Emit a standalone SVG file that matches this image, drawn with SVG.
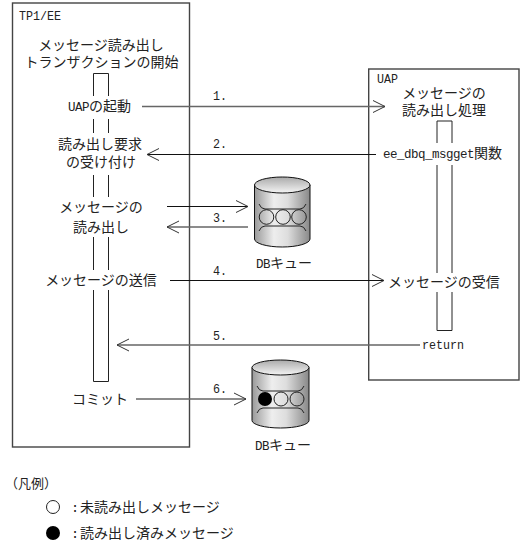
<svg xmlns="http://www.w3.org/2000/svg" width="523" height="544" viewBox="0 0 523 544">
<style>
text{font-family:"Noto Sans CJK JP","Noto Sans CJK SC",sans-serif;font-size:14px;fill:#222}
.l{font-family:"Liberation Mono",monospace;font-size:13.5px}
.t{font-family:"Liberation Mono",monospace;font-size:12.5px;letter-spacing:-.5px}
.m{text-anchor:middle}
.box{fill:#fff;stroke:#444;stroke-width:1.4}
.bar{fill:none;stroke:#222;stroke-width:1}
.a{fill:none;stroke:#111;stroke-width:1;marker-end:url(#h)}
.g{fill:none;stroke:#666;stroke-width:1.6;marker-end:url(#h)}
.cyl{fill:url(#cg);stroke:#111;stroke-width:1}
.top{fill:url(#tg);stroke:#111;stroke-width:1}
.ln{fill:none;stroke:#222;stroke-width:1}
.c{fill:none;stroke:#222;stroke-width:1}
</style>
<defs>
<marker id="h" markerUnits="userSpaceOnUse" markerWidth="14" markerHeight="14" refX="13" refY="7" orient="auto"><path d="M1 1L13 7L1 13" fill="none" stroke="#333" stroke-width="1"/></marker>
<linearGradient id="cg" x1="0" x2="1" y1="0" y2="0"><stop offset="0" stop-color="#999"/><stop offset=".35" stop-color="#eee"/><stop offset=".6" stop-color="#ddd"/><stop offset="1" stop-color="#888"/></linearGradient>
<linearGradient id="tg" x1="0" x2="0" y1="0" y2="1"><stop offset="0" stop-color="#aaa"/><stop offset="1" stop-color="#f4f4f4"/></linearGradient>
</defs>
<g id="tp1ee">
<rect class="box" x="12.500" y="3" width="177" height="444"/>
<text x="19" y="20" class="l" textLength="42" lengthAdjust="spacingAndGlyphs">TP1/EE</text>
<path class="bar" d="M93.500 96V73.500H108.500V96M93.500 119V133M108.500 119V133M93.500 175V197M108.500 175V197M93.500 237V270M108.500 237V270M93.500 290V381.500H108.500V290"/>
<text x="101" y="50" class="m">メッセージ読み出し</text>
<text x="101.500" y="67" class="m">トランザクションの開始</text>
<text x="68" y="111"><tspan class="t">UAP</tspan>の起動</text>
<text x="100" y="149" class="m">読み出し要求</text>
<text x="101" y="167" class="m">の受け付け</text>
<text x="101" y="212" class="m">メッセージの</text>
<text x="101" y="232" class="m">読み出し</text>
<text x="101" y="285" class="m">メッセージの送信</text>
<text x="100" y="404" class="m">コミット</text>
</g>
<g id="uap">
<rect class="box" x="368.700" y="69" width="150.300" height="311"/>
<text x="377" y="83" class="l" textLength="21" lengthAdjust="spacingAndGlyphs">UAP</text>
<path class="bar" d="M437 143V121H452V143M437 165V273M452 165V273M437 292V330.500H452V292"/>
<text x="444" y="98" class="m">メッセージの</text>
<text x="444" y="115" class="m">読み出し処理</text>
<text x="383" y="158"><tspan class="t">ee_dbq_msgget</tspan>関数</text>
<text x="388" y="287">メッセージの受信</text>
<text x="422" y="349" class="l" textLength="42" lengthAdjust="spacingAndGlyphs">return</text>
</g>
<g id="dbq1">
<path class="cyl" d="M254.500 185V239A27.750 8 0 0 0 310 239V185Z"/>
<ellipse class="top" cx="282.250" cy="185" rx="27.750" ry="8"/>
<path class="ln" d="M259 204Q261 209 265 209H300Q304 209 306 204M259 231Q261 226 265 226H300Q304 226 306 231"/>
<circle class="c" cx="266.500" cy="217" r="7.300"/><circle class="c" cx="283" cy="217" r="7.300"/><circle class="c" cx="299" cy="217" r="7.300"/>
<text x="256" y="268"><tspan class="t">DB</tspan>キュー</text>
</g>
<g id="dbq2">
<path class="cyl" d="M252 367.500V420.500A28.500 7.500 0 0 0 309 420.500V367.500Z"/>
<ellipse class="top" cx="280.500" cy="367.500" rx="28.500" ry="7.500"/>
<path class="ln" d="M257 386Q259 391 263 391H298Q302 391 304 386M257 413Q259 408 263 408H298Q302 408 304 413"/>
<circle cx="265" cy="399" r="7" fill="#000"/><circle class="c" cx="281" cy="399" r="7"/><circle class="c" cx="297" cy="399" r="7"/>
<text x="255" y="450"><tspan class="t">DB</tspan>キュー</text>
</g>
<g id="connectors">
<path class="g" d="M142 106.500H385"/>
<path class="a" d="M376 154.500H147"/>
<path class="a" d="M167 206.500H248"/>
<path class="g" d="M248 227H167"/>
<path class="a" d="M170 280.500H384"/>
<path class="g" d="M420 345H117"/>
<path class="g" d="M136 399H246"/>
</g>
<g id="labels">
<text x="213" y="100" class="l" textLength="14" lengthAdjust="spacingAndGlyphs">1.</text>
<text x="213" y="148" class="l" textLength="14" lengthAdjust="spacingAndGlyphs">2.</text>
<text x="213" y="222" class="l" textLength="14" lengthAdjust="spacingAndGlyphs">3.</text>
<text x="213" y="275" class="l" textLength="14" lengthAdjust="spacingAndGlyphs">4.</text>
<text x="213" y="340" class="l" textLength="14" lengthAdjust="spacingAndGlyphs">5.</text>
<text x="213" y="393" class="l" textLength="14" lengthAdjust="spacingAndGlyphs">6.</text>
</g>
<g id="legend">
<text x="5" y="488" style="font-size:13px">（凡例）</text>
<circle class="c" cx="53" cy="507" r="6.500"/>
<text x="71" y="512" class="l">:</text>
<text x="80" y="512">未読み出しメッセージ</text>
<circle cx="53" cy="533" r="7" fill="#000"/>
<text x="71" y="538" class="l">:</text>
<text x="80" y="538">読み出し済みメッセージ</text>
</g>
</svg>
